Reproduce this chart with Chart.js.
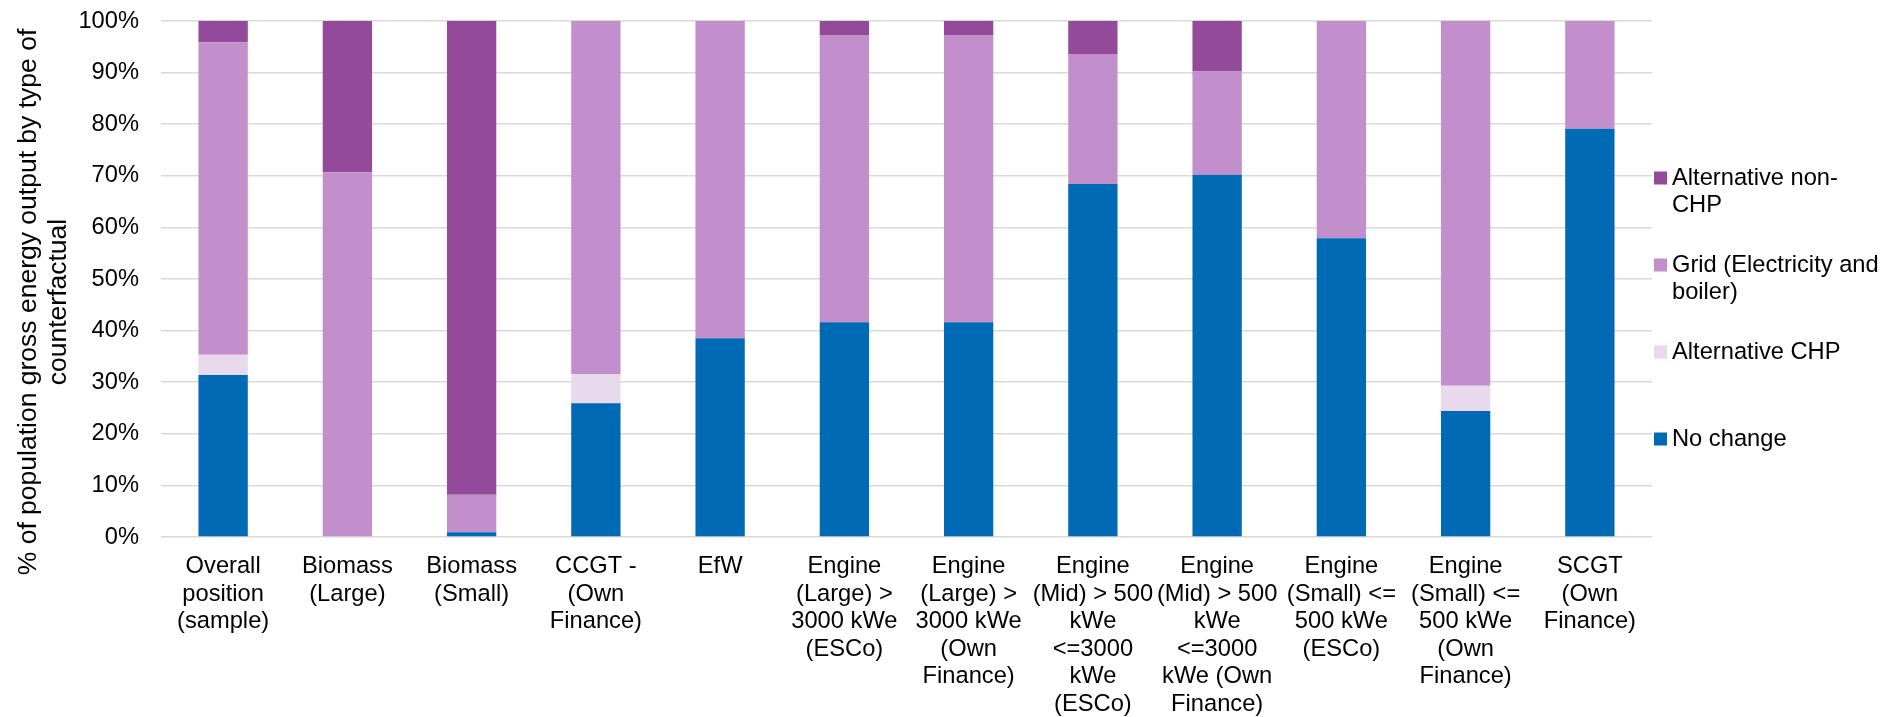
<!DOCTYPE html>
<html>
<head>
<meta charset="utf-8">
<script src="https://cdn.jsdelivr.net/npm/chart.js@4/dist/chart.umd.min.js"></script>
<style>
  html, body { margin: 0; padding: 0; background: #fff; }
  #wrap { width: 1903px; height: 717px; position: relative; }
</style>
</head>
<body>
<div id="wrap"><canvas id="c" width="1903" height="717"></canvas></div>
<script>
// Categories (multi-line axis labels)
const categories = [
  ["Overall", "position", "(sample)"],
  ["Biomass", "(Large)"],
  ["Biomass", "(Small)"],
  ["CCGT -", "(Own", "Finance)"],
  ["EfW"],
  ["Engine", "(Large) >", "3000 kWe", "(ESCo)"],
  ["Engine", "(Large) >", "3000 kWe", "(Own", "Finance)"],
  ["Engine", "(Mid) > 500", "kWe", "<=3000", "kWe", "(ESCo)"],
  ["Engine", "(Mid) > 500", "kWe", "<=3000", "kWe (Own", "Finance)"],
  ["Engine", "(Small) <=", "500 kWe", "(ESCo)"],
  ["Engine", "(Small) <=", "500 kWe", "(Own", "Finance)"],
  ["SCGT", "(Own", "Finance)"]
];

// Share of gross energy output (%) by counterfactual type
const noChange      = [31.4, 0,    0.9,  25.9, 38.5, 41.6, 41.6, 68.4, 70.2, 57.9, 24.4, 79.1];
const alternativeCHP = [3.9, 0,    0,    5.7,  0,    0,    0,    0,    0,    0,    4.9,  0];
const gridElecBoiler = [60.6, 70.7, 7.3, 68.4, 61.5, 55.7, 55.7, 25.2, 20.0, 42.1, 70.7, 20.9];
const alternativeNonCHP = [4.1, 29.3, 91.8, 0, 0,   2.7,  2.7,  6.4,  9.8,  0,    0,    0];

const yTicks = [0, 10, 20, 30, 40, 50, 60, 70, 80, 90, 100];

const seriesNames = ["No change", "Alternative CHP", "Grid (Electricity and boiler)", "Alternative non-CHP"];
const legendLines = [
  ["Alternative non-", "CHP"],
  ["Grid (Electricity and", "boiler)"],
  ["Alternative CHP"],
  ["No change"]
];
const yTitleLines = ["% of population gross energy output by type of", "counterfactual"];

const colors = {
  noChange: "#006AB5",
  altCHP: "#E9D9EC",
  grid: "#C28ECB",
  nonCHP: "#934A9B"
};

const FONT = "Liberation Sans, Arial, sans-serif";
const FS = 23.7;
const TITLE_FS = 26.5;

// Legend and rotated axis title drawn on the canvas
const extras = {
  id: "extras",
  afterDraw(chart) {
    const ctx = chart.ctx;
    const area = chart.chartArea;
    ctx.save();
    ctx.fillStyle = "#000";
    ctx.font = FS + "px " + FONT;
    ctx.textBaseline = "middle";

    // legend, top item first
    const legendColors = [colors.nonCHP, colors.grid, colors.altCHP, colors.noChange];
    const boxX = area.right + 2;
    const textX = area.right + 20;
    const firstY = 178;
    const step = 87;
    const lineH = 27.5;
    legendLines.forEach((lines, i) => {
      const y = firstY + i * step;
      ctx.fillStyle = legendColors[i];
      ctx.fillRect(boxX, y - 6.5, 13, 13);
      ctx.fillStyle = "#000";
      ctx.textAlign = "left";
      lines.forEach((t, j) => ctx.fillText(t, textX, y + j * lineH));
    });

    // vertical axis title
    ctx.font = TITLE_FS + "px " + FONT;
    ctx.translate(0, 302);
    ctx.rotate(-Math.PI / 2);
    ctx.textAlign = "center";
    ctx.fillText(yTitleLines[0], 0, 29);
    ctx.fillText(yTitleLines[1], 0, 59);
    ctx.restore();
  }
};

const mkSet = (label, data, color) => ({
  label, data,
  backgroundColor: color,
  borderWidth: 0,
  categoryPercentage: 1,
  barPercentage: 0.397
});

new Chart(document.getElementById("c"), {
  type: "bar",
  data: {
    labels: categories,
    datasets: [
      mkSet(seriesNames[0], noChange, colors.noChange),
      mkSet(seriesNames[1], alternativeCHP, colors.altCHP),
      mkSet(seriesNames[2], gridElecBoiler, colors.grid),
      mkSet(seriesNames[3], alternativeNonCHP, colors.nonCHP)
    ]
  },
  options: {
    responsive: false,
    animation: false,
    layout: { padding: { left: 0, right: 251, top: 21, bottom: 0 } },
    plugins: {
      legend: { display: false },
      tooltip: { enabled: false },
      title: { display: false }
    },
    scales: {
      x: {
        stacked: true,
        grid: { display: false, drawTicks: false },
        border: { display: false },
        ticks: {
          maxRotation: 0,
          minRotation: 0,
          autoSkip: false,
          padding: 16,
          color: "#000",
          font: { family: FONT, size: FS, lineHeight: 1.16 }
        },
        afterFit(scale) { scale.height = 180; }
      },
      y: {
        stacked: true,
        min: 0,
        max: 100,
        grid: { color: "#D9D9D9", lineWidth: 1.5, drawTicks: false },
        border: { display: false },
        afterBuildTicks(scale) { scale.ticks = yTicks.map(v => ({ value: v })); },
        ticks: {
          padding: 22,
          color: "#000",
          font: { family: FONT, size: FS },
          callback: v => v + "%"
        },
        afterFit(scale) {
          scale.width = 161;
          scale.paddingTop = 0;
          scale.paddingBottom = 0;
        }
      }
    }
  },
  plugins: [extras]
});
</script>
</body>
</html>
